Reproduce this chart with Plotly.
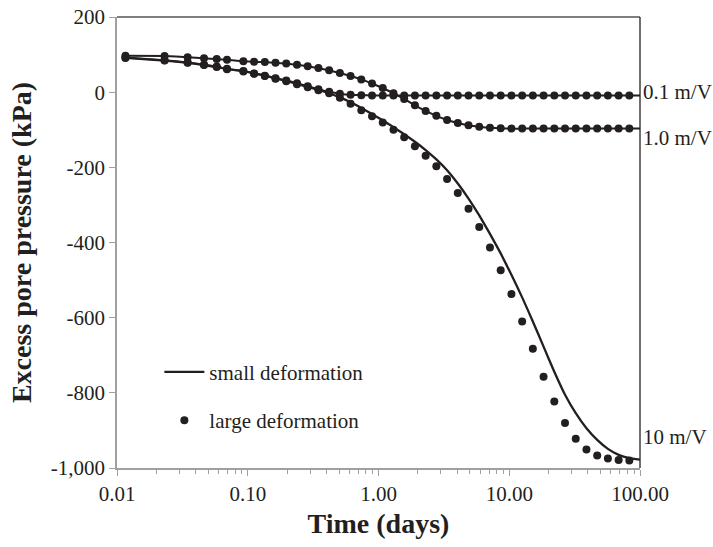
import plotly.graph_objects as go

# ---------------- data ----------------
time_days = [0.0116, 0.0231, 0.0347, 0.0463, 0.0579, 0.0694,
             0.0926, 0.1118, 0.1351, 0.1631, 0.1970, 0.2380, 0.2874, 0.3472,
             0.4193, 0.5065, 0.6117, 0.7388, 0.8924, 1.078, 1.302, 1.572,
             1.899, 2.294, 2.770, 3.346, 4.041, 4.881, 5.896, 7.121, 8.601,
             10.39, 12.55, 15.15, 18.30, 22.11, 26.70, 32.25, 38.95, 47.05,
             56.82, 68.63, 82.89]

time_days_line = time_days + [100.0]

# large deformation (points)
large_01 = [92, 85, 79, 73, 68, 62,
            56, 50, 44, 37, 31, 24, 16, 8, 1, -4, -7, -8, -9, -9, -9, -9,
            -9, -9, -9, -9, -9, -9, -9, -9, -9, -9, -9, -9, -9, -9, -9, -9,
            -9, -9, -9, -9, -9]
large_10 = [97, 96, 93, 90, 88, 86,
            82, 81, 80, 78, 76, 73, 69, 64, 58, 51, 43, 34, 23, 11, -3, -18,
            -35, -50, -63, -74, -82, -88, -92, -95, -96, -97, -97, -97, -97,
            -97, -97, -97, -97, -97, -97, -97, -97]
large_100 = [91, 84, 78, 72, 67, 61,
             55, 49, 43, 36, 29, 21, 13, 5, -3, -15, -31, -48, -64, -81, -100,
             -120, -144, -169, -197, -231, -268, -310, -359, -413, -474, -537,
             -610, -683, -757, -823, -880, -922, -951, -967, -975, -979, -980]

# small deformation (lines)
small_01 = [92, 85, 79, 73, 68, 62,
            56, 50, 44, 37, 31, 24, 16, 8, 1, -4, -7, -8, -9, -9, -9, -9,
            -9, -9, -9, -9, -9, -9, -9, -9, -9, -9, -9, -9, -9, -9, -9, -9,
            -9, -9, -9, -9, -9, -9]
small_10 = [97, 96, 93, 90, 88, 86,
            82, 81, 80, 78, 76, 73, 69, 64, 58, 51, 43, 34, 23, 11, -3, -18,
            -35, -50, -63, -74, -82, -88, -92, -95, -96, -97, -97, -97, -97,
            -97, -97, -97, -97, -97, -97, -97, -97, -97]
small_100 = [91, 84, 78, 72, 67, 61,
             56, 50, 44, 37, 30, 22, 14, 6, -3, -14, -27, -42, -58, -75, -93,
             -112, -132, -154, -179, -208, -243, -283, -328, -377, -429, -486,
             -546, -610, -677, -744, -805, -854, -894, -925, -949, -965, -974,
             -978]

case_labels = ["0.1 m/V", "1.0 m/V", "10 m/V"]
label_values = [0, -122, -918]

x_tickvals = [0.01, 0.1, 1, 10, 100]
x_ticktext = ["0.01", "0.10", "1.00", "10.00", "100.00"]
y_tickvals = [200, 0, -200, -400, -600, -800, -1000]
y_ticktext = ["200", "0", "-200", "-400", "-600", "-800", "-1,000"]

# ---------------- styling ----------------
INK = "#231f20"
AXIS_GRAY = "#a0a0a0"
FONT = "Liberation Serif"

fig = go.Figure()

small_sets = [small_01, small_10, small_100]
large_sets = [large_01, large_10, large_100]

for i, ys in enumerate(small_sets):
    fig.add_trace(go.Scatter(
        x=time_days_line, y=ys, mode="lines",
        line=dict(color=INK, width=2.3 if i == 2 else 2.0, shape="spline", smoothing=0.4),
        name="small deformation", legendgroup="small",
        showlegend=(i == 2), hoverinfo="skip"))

for i, ys in enumerate(large_sets):
    fig.add_trace(go.Scatter(
        x=time_days, y=ys, mode="markers",
        marker=dict(color=INK, size=8, line=dict(width=0)),
        name="large deformation", legendgroup="large",
        showlegend=(i == 0), hoverinfo="skip"))

# right-side case labels
for lab, yv in zip(case_labels, label_values):
    fig.add_annotation(x=1.0, xref="paper", y=yv, yref="y", text=lab,
                       showarrow=False, xanchor="left", yanchor="middle",
                       xshift=1, font=dict(family=FONT, size=21, color=INK))

# top and right frame lines
fig.add_shape(type="line", xref="paper", yref="paper", x0=0, x1=1, y0=1, y1=1,
              line=dict(color="#555555", width=1.3))
fig.add_shape(type="line", xref="paper", yref="paper", x0=1, x1=1, y0=0, y1=1,
              line=dict(color=INK, width=1.3))

fig.update_layout(
    width=713, height=547,
    margin=dict(l=117, r=73, t=17, b=79, pad=0),
    paper_bgcolor="white", plot_bgcolor="white",
    font=dict(family=FONT, size=21, color=INK),
    showlegend=True,
    legend=dict(x=0.081, y=0.2576, xanchor="left", yanchor="top",
                bgcolor="rgba(0,0,0,0)", borderwidth=0,
                font=dict(family=FONT, size=21, color=INK),
                traceorder="grouped", tracegroupgap=18, itemwidth=40),
    xaxis=dict(type="log", range=[-2, 2], tickvals=x_tickvals, ticktext=x_ticktext,
               automargin=False,
               showgrid=False, zeroline=False, showline=True, linecolor=AXIS_GRAY,
               linewidth=1.5, ticks="outside", ticklen=6, tickcolor=AXIS_GRAY,
               tickwidth=1.2, tickfont=dict(family=FONT, size=21, color=INK),
               minor=dict(ticks="outside", ticklen=4, tickcolor=AXIS_GRAY,
                          tickwidth=1, dtick="D1", showgrid=False),
               title=dict(text="<b>Time (days)</b>", standoff=8,
                          font=dict(family=FONT, size=28, color=INK))),
    yaxis=dict(range=[-1000, 200], tickvals=y_tickvals, ticktext=y_ticktext,
               automargin=False,
               showgrid=False, zeroline=False, showline=True, linecolor=AXIS_GRAY,
               linewidth=1.5, ticks="outside", ticklen=6, tickcolor=AXIS_GRAY,
               tickwidth=1.2, tickfont=dict(family=FONT, size=21, color=INK),
               title=dict(text="<b>Excess pore pressure (kPa)</b>", standoff=11,
                          font=dict(family=FONT, size=28, color=INK))),
)

fig.write_html("out.html")
